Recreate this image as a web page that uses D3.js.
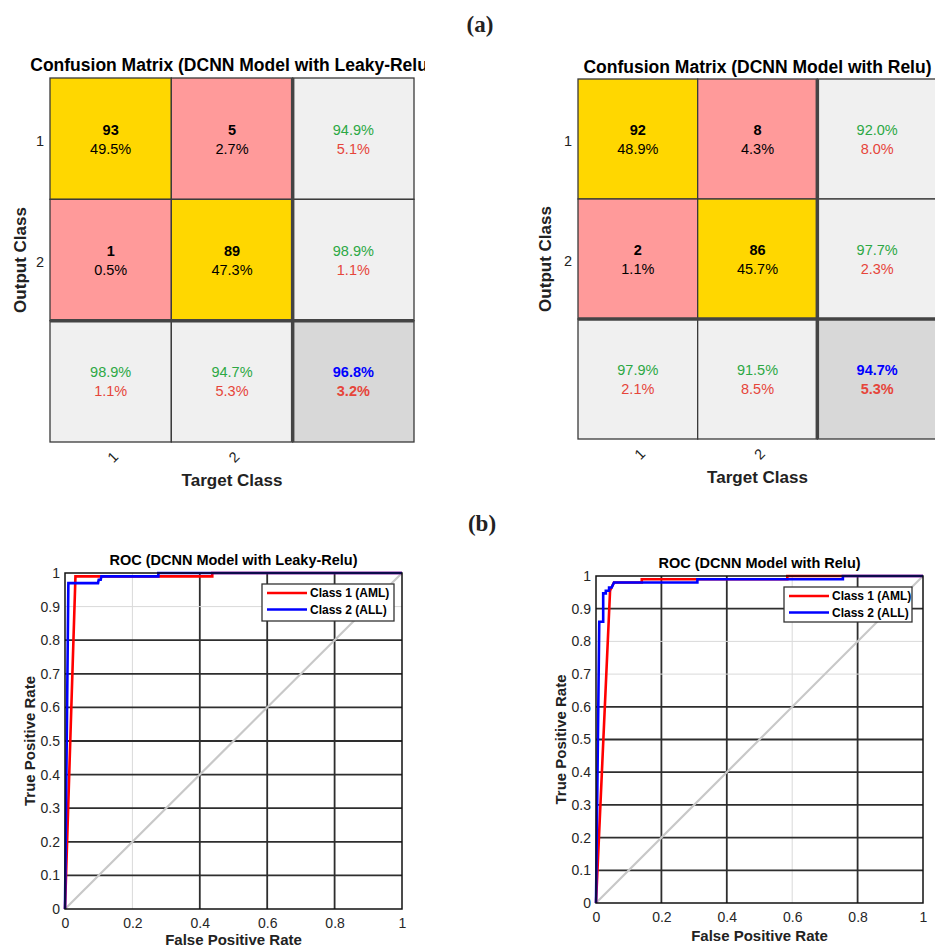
<!DOCTYPE html>
<html lang="en">
<head>
  <meta charset="UTF-8">
  <title>DCNN confusion matrices and ROC curves</title>
  <style>
    body { margin: 0; background: #fff; }
    svg text { font-family: 'Liberation Sans', Arial, sans-serif; fill: #222; }
    .panel-tag { font-family: 'Liberation Serif', 'DejaVu Serif', serif; font-weight: bold; font-size: 23px; }
  </style>
</head>
<body>
<div class="canvas"></div>
<script src="https://d3js.org/d3.v7.min.js"></script>
<script>
  const classLabels = ['1', '2'];

  // (a) confusion matrix, Leaky-Relu model (rows = output, cols = target)
  const leakyCounts = [[93, 5], [1, 89]];
  const leakyShares = [[49.5, 2.7], [0.5, 47.3]];
  const leakyRowHit = [94.9, 98.9];
  const leakyRowMiss = [5.1, 1.1];
  const leakyColHit = [98.9, 94.7];
  const leakyColMiss = [1.1, 5.3];
  const leakyOverall = [96.8, 3.2];

  // (a) confusion matrix, Relu model
  const reluCounts = [[92, 8], [2, 86]];
  const reluShares = [[48.9, 4.3], [1.1, 45.7]];
  const reluRowHit = [92.0, 97.7];
  const reluRowMiss = [8.0, 2.3];
  const reluColHit = [97.9, 91.5];
  const reluColMiss = [2.1, 8.5];
  const reluOverall = [94.7, 5.3];

  // (b) ROC curves
  const rocSeries = ['Class 1 (AML)', 'Class 2 (ALL)'];
  const rocTicks = [0, 0.1, 0.2, 0.3, 0.4, 0.5, 0.6, 0.7, 0.8, 0.9, 1];
  const rocXTicks = [0, 0.2, 0.4, 0.6, 0.8, 1];

  const leakyFpr1 = [0, 0.031, 0.437, 0.437, 1];
  const leakyTpr1 = [0, 0.99, 0.99, 1, 1];
  const leakyFpr2 = [0, 0.01, 0.098, 0.1, 0.106, 0.108, 0.277, 0.277, 1];
  const leakyTpr2 = [0, 0.97, 0.97, 0.98, 0.98, 0.99, 0.99, 1, 1];

  const reluFpr1 = [0, 0.043, 0.05, 0.055, 0.14, 0.14, 0.585, 0.585, 1];
  const reluTpr1 = [0, 0.955, 0.97, 0.98, 0.98, 0.99, 0.99, 1, 1];
  const reluFpr2 = [0, 0.01, 0.022, 0.022, 0.03, 0.03, 0.04, 0.04, 0.048, 0.055, 0.31, 0.31, 0.755, 0.755, 1];
  const reluTpr2 = [0, 0.86, 0.86, 0.947, 0.947, 0.955, 0.955, 0.965, 0.965, 0.98, 0.98, 0.99, 0.99, 1, 1];

  const width = 935;
  const height = 949;
  const font = "'Liberation Sans', Arial, sans-serif";
  const green = '#2ca844';
  const red = '#e6453a';

  const svg = d3.select('.canvas')
    .append('svg')
    .attr('width', width)
    .attr('height', height);

  svg.append('text').attr('class', 'panel-tag')
    .attr('x', 480).attr('y', 32).attr('text-anchor', 'middle').text('(a)');
  svg.append('text').attr('class', 'panel-tag')
    .attr('x', 482).attr('y', 531).attr('text-anchor', 'middle').text('(b)');

  svg.append('clipPath').attr('id', 'clip-left')
    .append('rect').attr('x', 0).attr('y', 0).attr('width', 425).attr('height', 500);

  function drawConfusion(cfg) {
    const g = svg.append('g');
    const keys = [...classLabels, 'all'];
    const x = d3.scaleBand().domain(keys).range([cfg.x0, cfg.x1]);
    const y = d3.scaleBand().domain(keys).range([cfg.y0, cfg.y1]);

    const cells = [];
    classLabels.forEach((r, i) => {
      classLabels.forEach((c, j) => {
        cells.push({ row: r, col: c, fill: i === j ? '#ffd700' : '#ff9a9a',
          lines: [[cfg.counts[i][j], '#000', 'bold'], [cfg.shares[i][j].toFixed(1) + '%', '#000', 'normal']] });
      });
      cells.push({ row: r, col: 'all', fill: '#f0f0f0',
        lines: [[cfg.rowHit[i].toFixed(1) + '%', green, 'normal'], [cfg.rowMiss[i].toFixed(1) + '%', red, 'normal']] });
      cells.push({ row: 'all', col: r, fill: '#f0f0f0',
        lines: [[cfg.colHit[i].toFixed(1) + '%', green, 'normal'], [cfg.colMiss[i].toFixed(1) + '%', red, 'normal']] });
    });
    cells.push({ row: 'all', col: 'all', fill: '#d8d8d8',
      lines: [[cfg.overall[0].toFixed(1) + '%', '#0000ff', 'bold'], [cfg.overall[1].toFixed(1) + '%', red, 'bold']] });

    g.selectAll('rect.cell')
      .data(cells)
      .enter()
      .append('rect')
      .attr('class', 'cell')
      .attr('x', d => x(d.col))
      .attr('y', d => y(d.row))
      .attr('width', x.bandwidth())
      .attr('height', y.bandwidth())
      .attr('fill', d => d.fill)
      .attr('stroke', '#3a3a3a')
      .attr('stroke-width', 1.3);

    cells.forEach(d => {
      const cx = x(d.col) + x.bandwidth() / 2;
      const cy = y(d.row) + y.bandwidth() / 2;
      d.lines.forEach((ln, k) => {
        g.append('text')
          .attr('x', cx)
          .attr('y', cy + (k === 0 ? -9 : 10))
          .attr('dy', '0.35em')
          .attr('text-anchor', 'middle')
          .style('font-size', '14.5px')
          .style('font-weight', ln[2])
          .style('fill', ln[1])
          .text(ln[0]);
      });
    });

    // heavy separators for the summary row/column
    g.append('line')
      .attr('x1', x('all')).attr('x2', x('all'))
      .attr('y1', cfg.y0).attr('y2', cfg.y1)
      .attr('stroke', '#444').attr('stroke-width', 3.5);
    g.append('line')
      .attr('x1', cfg.x0).attr('x2', cfg.x1)
      .attr('y1', y('all')).attr('y2', y('all'))
      .attr('stroke', '#444').attr('stroke-width', 3.5);

    classLabels.forEach(c => {
      g.append('text')
        .attr('x', cfg.x0 - 10)
        .attr('y', y(c) + y.bandwidth() / 2 + 2)
        .attr('dy', '0.35em')
        .attr('text-anchor', 'middle')
        .style('font-size', '14.5px')
        .text(c);
      g.append('text')
        .attr('transform', `translate(${x(c) + x.bandwidth() / 2 + 2}, ${cfg.y1 + 15}) rotate(-45)`)
        .attr('dy', '0.35em')
        .attr('text-anchor', 'middle')
        .style('font-size', '14.5px')
        .text(c);
    });

    const title = g.append('text')
      .attr('x', (cfg.x0 + cfg.x1) / 2)
      .attr('y', cfg.titleY)
      .attr('text-anchor', 'middle')
      .style('font-size', '17.5px')
      .style('font-weight', 'bold')
      .style('fill', '#000')
      .text(cfg.title);
    if (cfg.clip) title.attr('clip-path', `url(#${cfg.clip})`);

    g.append('text')
      .attr('x', (cfg.x0 + cfg.x1) / 2)
      .attr('y', cfg.y1 + 44)
      .attr('text-anchor', 'middle')
      .style('font-size', '17px')
      .style('font-weight', 'bold')
      .text('Target Class');

    g.append('text')
      .attr('transform', `translate(${cfg.yLabelX}, ${(cfg.y0 + cfg.y1) / 2}) rotate(-90)`)
      .attr('text-anchor', 'middle')
      .style('font-size', '17px')
      .style('font-weight', 'bold')
      .text('Output Class');
  }

  function drawRoc(cfg) {
    const g = svg.append('g');
    const x = d3.scaleLinear().domain([0, 1]).range([cfg.x0, cfg.x1]);
    const y = d3.scaleLinear().domain([0, 1]).range([cfg.y1, cfg.y0]);

    // grid (rendered dark in the source image except a few faint lines)
    g.selectAll('line.gx')
      .data(rocXTicks.slice(1, -1))
      .enter().append('line')
      .attr('x1', d => x(d)).attr('x2', d => x(d))
      .attr('y1', cfg.y0).attr('y2', cfg.y1)
      .attr('stroke', d => cfg.lightX.includes(d) ? '#d9d9d9' : '#2e2e2e')
      .attr('stroke-width', d => cfg.lightX.includes(d) ? 1 : 1.8);
    g.selectAll('line.gy')
      .data(rocTicks.slice(1, -1))
      .enter().append('line')
      .attr('y1', d => y(d)).attr('y2', d => y(d))
      .attr('x1', cfg.x0).attr('x2', cfg.x1)
      .attr('stroke', d => cfg.lightY.includes(d) ? '#d9d9d9' : '#2e2e2e')
      .attr('stroke-width', d => cfg.lightY.includes(d) ? 1 : 1.8);

    const xAxis = d3.axisBottom(x).tickValues(rocXTicks).tickSize(0).tickPadding(9)
      .tickFormat(d => (d === 0 || d === 1) ? d : d.toFixed(1));
    const yAxis = d3.axisLeft(y).tickValues(rocTicks).tickSize(0).tickPadding(5)
      .tickFormat(d => (d === 0 || d === 1) ? d : d.toFixed(1));
    const gx = g.append('g').attr('transform', `translate(0, ${cfg.y1})`).call(xAxis);
    const gy = g.append('g').attr('transform', `translate(${cfg.x0}, 0)`).call(yAxis);
    [gx, gy].forEach(a => {
      a.select('.domain').remove();
      a.selectAll('text').style('font-size', '14px').style('font-family', font).style('fill', '#262626');
    });

    // chance diagonal
    g.append('line')
      .attr('x1', x(0)).attr('y1', y(0)).attr('x2', x(1)).attr('y2', y(1))
      .attr('stroke', '#c8c8c8').attr('stroke-width', 2.2);

    const line = d3.line().x(d => x(d[0])).y(d => y(d[1]));
    const curves = [
      { name: rocSeries[0], color: '#ff0000', pts: d3.zip(cfg.fpr1, cfg.tpr1) },
      { name: rocSeries[1], color: '#0000ff', pts: d3.zip(cfg.fpr2, cfg.tpr2) }
    ];
    g.selectAll('path.roc')
      .data(curves)
      .enter().append('path')
      .attr('class', 'roc')
      .attr('d', d => line(d.pts))
      .attr('fill', 'none')
      .attr('stroke', d => d.color)
      .attr('stroke-width', 2.6);

    g.append('rect')
      .attr('x', cfg.x0).attr('y', cfg.y0)
      .attr('width', cfg.x1 - cfg.x0).attr('height', cfg.y1 - cfg.y0)
      .attr('fill', 'none').attr('stroke', '#111').attr('stroke-width', 1.5);

    // legend
    const lg = g.append('g').attr('transform', `translate(${cfg.legend[0]}, ${cfg.legend[1]})`);
    lg.append('rect')
      .attr('width', cfg.legend[2]).attr('height', cfg.legend[3])
      .attr('fill', '#fff').attr('stroke', '#333').attr('stroke-width', 1.3);
    curves.forEach((c, i) => {
      const ly = 9 + i * 16.5;
      lg.append('line')
        .attr('x1', 5).attr('x2', 45).attr('y1', ly).attr('y2', ly)
        .attr('stroke', c.color).attr('stroke-width', 2.6);
      lg.append('text')
        .attr('x', 48).attr('y', ly).attr('dy', '0.35em')
        .style('font-size', '12px').style('font-weight', 'bold').style('fill', '#000')
        .text(c.name);
    });

    g.append('text')
      .attr('x', (cfg.x0 + cfg.x1) / 2).attr('y', cfg.y0 - 8)
      .attr('text-anchor', 'middle')
      .style('font-size', '14.5px').style('font-weight', 'bold').style('fill', '#000')
      .text(cfg.title);
    g.append('text')
      .attr('x', (cfg.x0 + cfg.x1) / 2).attr('y', Math.min(cfg.y1 + 38, height - 4))
      .attr('text-anchor', 'middle')
      .style('font-size', '15px').style('font-weight', 'bold')
      .text('False Positive Rate');
    g.append('text')
      .attr('transform', `translate(${cfg.x0 - 30}, ${(cfg.y0 + cfg.y1) / 2}) rotate(-90)`)
      .attr('text-anchor', 'middle')
      .style('font-size', '15px').style('font-weight', 'bold')
      .text('True Positive Rate');
  }

  drawConfusion({
    x0: 50, x1: 414, y0: 78, y1: 442, titleY: 71, yLabelX: 26, clip: 'clip-left',
    title: 'Confusion Matrix (DCNN Model with Leaky-Relu)',
    counts: leakyCounts, shares: leakyShares,
    rowHit: leakyRowHit, rowMiss: leakyRowMiss,
    colHit: leakyColHit, colMiss: leakyColMiss, overall: leakyOverall
  });
  drawConfusion({
    x0: 578, x1: 937, y0: 79, y1: 439, titleY: 73, yLabelX: 551,
    title: 'Confusion Matrix (DCNN Model with Relu)',
    counts: reluCounts, shares: reluShares,
    rowHit: reluRowHit, rowMiss: reluRowMiss,
    colHit: reluColHit, colMiss: reluColMiss, overall: reluOverall
  });

  drawRoc({
    x0: 65, x1: 402, y0: 573, y1: 909,
    title: 'ROC (DCNN Model with Leaky-Relu)',
    fpr1: leakyFpr1, tpr1: leakyTpr1, fpr2: leakyFpr2, tpr2: leakyTpr2,
    lightX: [0.2], lightY: [0.9],
    legend: [262, 584, 132, 37]
  });
  drawRoc({
    x0: 596, x1: 923, y0: 576, y1: 903,
    title: 'ROC (DCNN Model with Relu)',
    fpr1: reluFpr1, tpr1: reluTpr1, fpr2: reluFpr2, tpr2: reluTpr2,
    lightX: [0.6], lightY: [0.7, 0.8],
    legend: [784, 587, 128, 35]
  });
</script>
</body>
</html>
